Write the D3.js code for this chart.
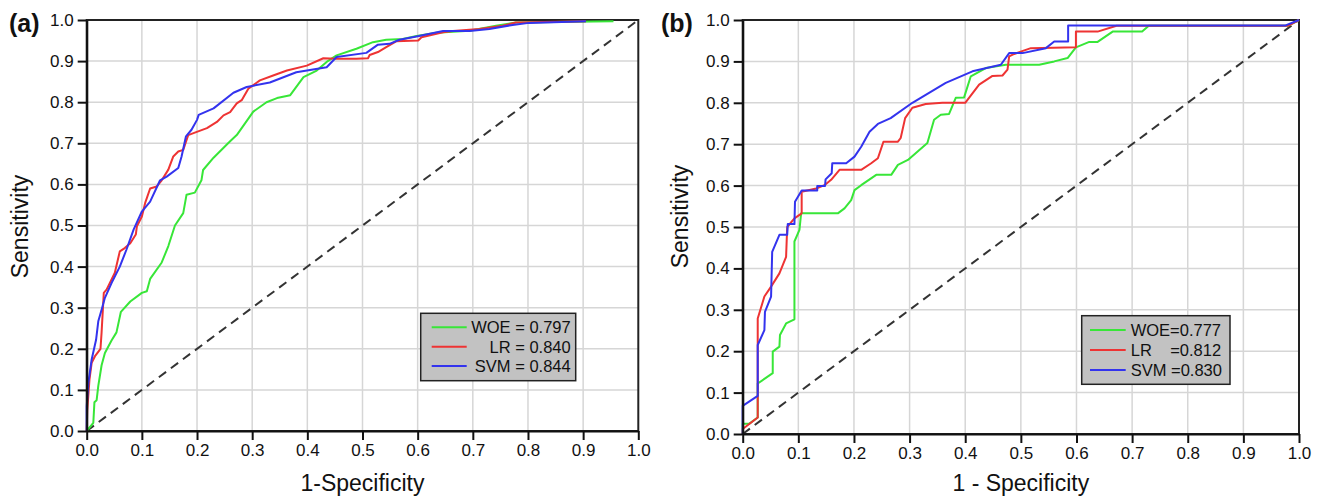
<!DOCTYPE html>
<html>
<head>
<meta charset="utf-8">
<script src="https://cdn.jsdelivr.net/npm/d3@7"></script>
<style>
  body { margin: 0; background: #fff; }
  svg text { font-family: "Liberation Sans", Arial, sans-serif; }
</style>
</head>
<body>
<div class="roc-chart"></div>
<script>
// ---- data: [1-specificity, sensitivity] ----
const ticks = [0, 0.1, 0.2, 0.3, 0.4, 0.5, 0.6, 0.7, 0.8, 0.9, 1.0];
const models = ["WOE", "LR", "SVM"];
const legendA = ["WOE = 0.797", "LR = 0.840", "SVM = 0.844"];
const legendB = ["WOE=0.777", "LR    =0.812", "SVM =0.830"];
const diagonal = [[0, 0], [1, 1]];

const woeA = [[0,0],[0.012,0.02],[0.014,0.07],[0.018,0.075],[0.021,0.11],[0.027,0.16],[0.033,0.19],[0.045,0.22],[0.054,0.24],[0.062,0.29],[0.079,0.315],[0.1,0.336],[0.109,0.34],[0.115,0.37],[0.136,0.41],[0.148,0.45],[0.16,0.5],[0.175,0.53],[0.181,0.575],[0.196,0.58],[0.208,0.61],[0.211,0.635],[0.23,0.665],[0.26,0.705],[0.272,0.72],[0.302,0.777],[0.326,0.8],[0.345,0.81],[0.369,0.817],[0.393,0.861],[0.417,0.877],[0.435,0.898],[0.453,0.914],[0.489,0.93],[0.519,0.946],[0.543,0.952],[0.573,0.954],[0.598,0.961],[0.634,0.969],[0.694,0.974],[0.742,0.986],[0.778,0.994],[0.955,0.997]];
const lrA = [[0,0],[0.001,0.05],[0.005,0.125],[0.009,0.166],[0.015,0.182],[0.025,0.2],[0.027,0.24],[0.031,0.336],[0.036,0.344],[0.042,0.36],[0.051,0.385],[0.06,0.437],[0.069,0.445],[0.079,0.457],[0.089,0.478],[0.091,0.498],[0.1,0.522],[0.106,0.555],[0.115,0.59],[0.127,0.595],[0.136,0.61],[0.148,0.636],[0.157,0.668],[0.166,0.68],[0.175,0.684],[0.184,0.72],[0.196,0.726],[0.218,0.737],[0.236,0.752],[0.248,0.768],[0.26,0.776],[0.272,0.797],[0.281,0.805],[0.293,0.833],[0.314,0.853],[0.338,0.865],[0.363,0.877],[0.399,0.889],[0.429,0.907],[0.453,0.906],[0.489,0.906],[0.51,0.907],[0.513,0.915],[0.528,0.922],[0.543,0.934],[0.561,0.948],[0.601,0.95],[0.607,0.958],[0.646,0.97],[0.664,0.973],[0.712,0.978],[0.754,0.986],[0.778,0.994],[0.905,0.997]];
const svmA = [[0,0],[0,0.06],[0.003,0.117],[0.009,0.174],[0.017,0.222],[0.021,0.267],[0.027,0.295],[0.033,0.324],[0.045,0.36],[0.06,0.4],[0.072,0.441],[0.085,0.49],[0.1,0.534],[0.115,0.558],[0.133,0.61],[0.145,0.619],[0.166,0.64],[0.172,0.668],[0.18,0.717],[0.19,0.733],[0.2,0.757],[0.203,0.769],[0.23,0.785],[0.266,0.823],[0.29,0.837],[0.332,0.848],[0.38,0.873],[0.435,0.885],[0.453,0.91],[0.507,0.92],[0.528,0.94],[0.549,0.942],[0.567,0.952],[0.598,0.96],[0.646,0.973],[0.694,0.973],[0.73,0.978],[0.772,0.988],[0.802,0.993],[0.905,0.997]];

const woeB = [[0,0],[0,0.025],[0.012,0.025],[0.027,0.04],[0.027,0.122],[0.054,0.147],[0.054,0.199],[0.066,0.211],[0.067,0.239],[0.078,0.267],[0.093,0.277],[0.093,0.465],[0.102,0.493],[0.105,0.533],[0.171,0.533],[0.183,0.545],[0.195,0.565],[0.201,0.589],[0.213,0.601],[0.24,0.626],[0.267,0.626],[0.279,0.65],[0.297,0.662],[0.332,0.703],[0.344,0.759],[0.356,0.771],[0.371,0.773],[0.383,0.812],[0.398,0.813],[0.41,0.864],[0.437,0.884],[0.473,0.892],[0.533,0.892],[0.56,0.9],[0.584,0.908],[0.599,0.934],[0.623,0.947],[0.638,0.947],[0.665,0.972],[0.718,0.972],[0.73,0.986],[0.98,0.986],[1,1]];
const lrB = [[0,0],[0,0.012],[0.027,0.04],[0.027,0.279],[0.039,0.332],[0.051,0.356],[0.066,0.388],[0.078,0.428],[0.08,0.5],[0.093,0.521],[0.106,0.533],[0.106,0.585],[0.132,0.593],[0.147,0.601],[0.159,0.614],[0.174,0.638],[0.213,0.638],[0.231,0.654],[0.243,0.666],[0.253,0.706],[0.279,0.706],[0.284,0.715],[0.292,0.763],[0.305,0.788],[0.329,0.797],[0.359,0.8],[0.4,0.8],[0.425,0.844],[0.449,0.865],[0.467,0.866],[0.476,0.88],[0.479,0.912],[0.488,0.918],[0.518,0.932],[0.599,0.934],[0.599,0.972],[0.638,0.972],[0.672,0.986],[0.98,0.986],[1,1]];
const svmB = [[0,0],[0,0.068],[0.027,0.092],[0.027,0.215],[0.039,0.251],[0.04,0.295],[0.051,0.332],[0.053,0.44],[0.066,0.481],[0.08,0.481],[0.081,0.507],[0.093,0.507],[0.094,0.561],[0.106,0.588],[0.134,0.588],[0.134,0.599],[0.148,0.599],[0.149,0.615],[0.16,0.63],[0.161,0.654],[0.186,0.654],[0.201,0.67],[0.213,0.694],[0.228,0.73],[0.243,0.749],[0.266,0.763],[0.305,0.8],[0.365,0.848],[0.413,0.876],[0.464,0.892],[0.479,0.92],[0.503,0.92],[0.545,0.932],[0.56,0.948],[0.585,0.948],[0.585,0.987],[0.976,0.987],[1,1]];

const colors = { WOE: "#38e638", LR: "#ee3333", SVM: "#3333ee" };

const svg = d3.select(".roc-chart").append("svg")
    .attr("width", 1320)
    .attr("height", 500);

function drawPanel(p) {
    const x = d3.scaleLinear().domain([0, 1]).range([p.left, p.right]);
    const y = d3.scaleLinear().domain([0, 1]).range([p.bottom, p.top]);
    const g = svg.append("g");

    // grid
    g.append("g").selectAll("line").data(ticks.slice(1, -1)).join("line")
        .attr("x1", d => x(d)).attr("x2", d => x(d))
        .attr("y1", p.top).attr("y2", p.bottom)
        .attr("stroke", "#d6d6d6").attr("stroke-width", 1.5);
    g.append("g").selectAll("line").data(ticks.slice(1, -1)).join("line")
        .attr("y1", d => y(d)).attr("y2", d => y(d))
        .attr("x1", p.left).attr("x2", p.right)
        .attr("stroke", "#d6d6d6").attr("stroke-width", 1.5);

    // frame
    g.append("rect")
        .attr("x", p.left).attr("y", p.top)
        .attr("width", p.right - p.left).attr("height", p.bottom - p.top)
        .attr("fill", "none").attr("stroke", "#222").attr("stroke-width", 2);

    // diagonal
    g.append("path")
        .datum(diagonal)
        .attr("fill", "none")
        .attr("stroke", "#333")
        .attr("stroke-width", 2)
        .attr("stroke-dasharray", "9,6")
        .attr("d", d3.line().x(d => x(d[0])).y(d => y(d[1])));

    const line = d3.line().x(d => x(d[0])).y(d => y(d[1]));
    p.series.forEach((s, i) => {
        g.append("path")
            .datum(s)
            .attr("fill", "none")
            .attr("stroke", colors[models[i]])
            .attr("stroke-width", 2)
            .attr("stroke-linejoin", "round")
            .attr("d", line);
    });

    // axes
    const fmt = d3.format(".1f");
    const xAxis = g.append("g")
        .attr("transform", `translate(0,${p.bottom})`)
        .call(d3.axisBottom(x).tickValues(ticks).tickFormat(fmt).tickSize(9).tickPadding(4).tickSizeOuter(0));
    const yAxis = g.append("g")
        .attr("transform", `translate(${p.left},0)`)
        .call(d3.axisLeft(y).tickValues(ticks).tickFormat(fmt).tickSize(9).tickPadding(4).tickSizeOuter(0));
    [xAxis, yAxis].forEach(a => {
        a.select(".domain").attr("stroke", "#111").attr("stroke-width", 2.2);
        a.selectAll(".tick line").attr("stroke", "#111").attr("stroke-width", 2);
        a.selectAll(".tick text").attr("font-size", 17).attr("fill", "#111")
            .style("font-family", "'Liberation Sans', Arial, sans-serif");
    });

    // titles
    g.append("text")
        .attr("x", (p.left + p.right) / 2).attr("y", 491)
        .attr("text-anchor", "middle").attr("font-size", 23).attr("fill", "#111")
        .text(p.xTitle);
    g.append("text")
        .attr("transform", `translate(${p.yTitleX},${p.yTitleY}) rotate(-90)`)
        .attr("text-anchor", "middle").attr("font-size", 23).attr("fill", "#111")
        .text("Sensitivity");
    g.append("text")
        .attr("x", p.tagX).attr("y", 32)
        .attr("font-size", 25).attr("font-weight", "bold").attr("fill", "#111")
        .text(p.tag);

    // legend
    const L = p.legend;
    const lg = g.append("g").attr("transform", `translate(${L.x},${L.y})`);
    lg.append("rect")
        .attr("width", L.w).attr("height", L.h)
        .attr("fill", "#c2c2c2").attr("stroke", "#222").attr("stroke-width", 1.5);
    p.labels.forEach((lab, i) => {
        const cy = L.row0 + i * L.rowStep;
        lg.append("line")
            .attr("x1", L.lx1).attr("x2", L.lx2).attr("y1", cy).attr("y2", cy)
            .attr("stroke", colors[models[i]]).attr("stroke-width", 2);
        lg.append("text")
            .attr("x", L.tx).attr("y", cy + 6)
            .attr("text-anchor", L.anchor)
            .attr("font-size", 16.5).attr("fill", "#111")
            .style("white-space", "pre")
            .text(lab);
    });
}

drawPanel({
    left: 86.7, right: 638.3, top: 20, bottom: 431,
    series: [woeA, lrA, svmA], labels: legendA,
    xTitle: "1-Specificity", yTitleX: 28, yTitleY: 226.5, tag: "(a)", tagX: 9,
    legend: { x: 420.7, y: 313.3, w: 155, h: 67.4, lx1: 11, lx2: 46, tx: 150, anchor: "end", row0: 14, rowStep: 19.4 }
});
drawPanel({
    left: 742.7, right: 1299, top: 20, bottom: 434,
    series: [woeB, lrB, svmB], labels: legendB,
    xTitle: "1 - Specificity", yTitleX: 688, yTitleY: 216.5, tag: "(b)", tagX: 661,
    legend: { x: 1081.7, y: 315.7, w: 148.3, h: 68.6, lx1: 8.3, lx2: 44, tx: 49, anchor: "start", row0: 14.3, rowStep: 20 }
});
</script>
</body>
</html>
